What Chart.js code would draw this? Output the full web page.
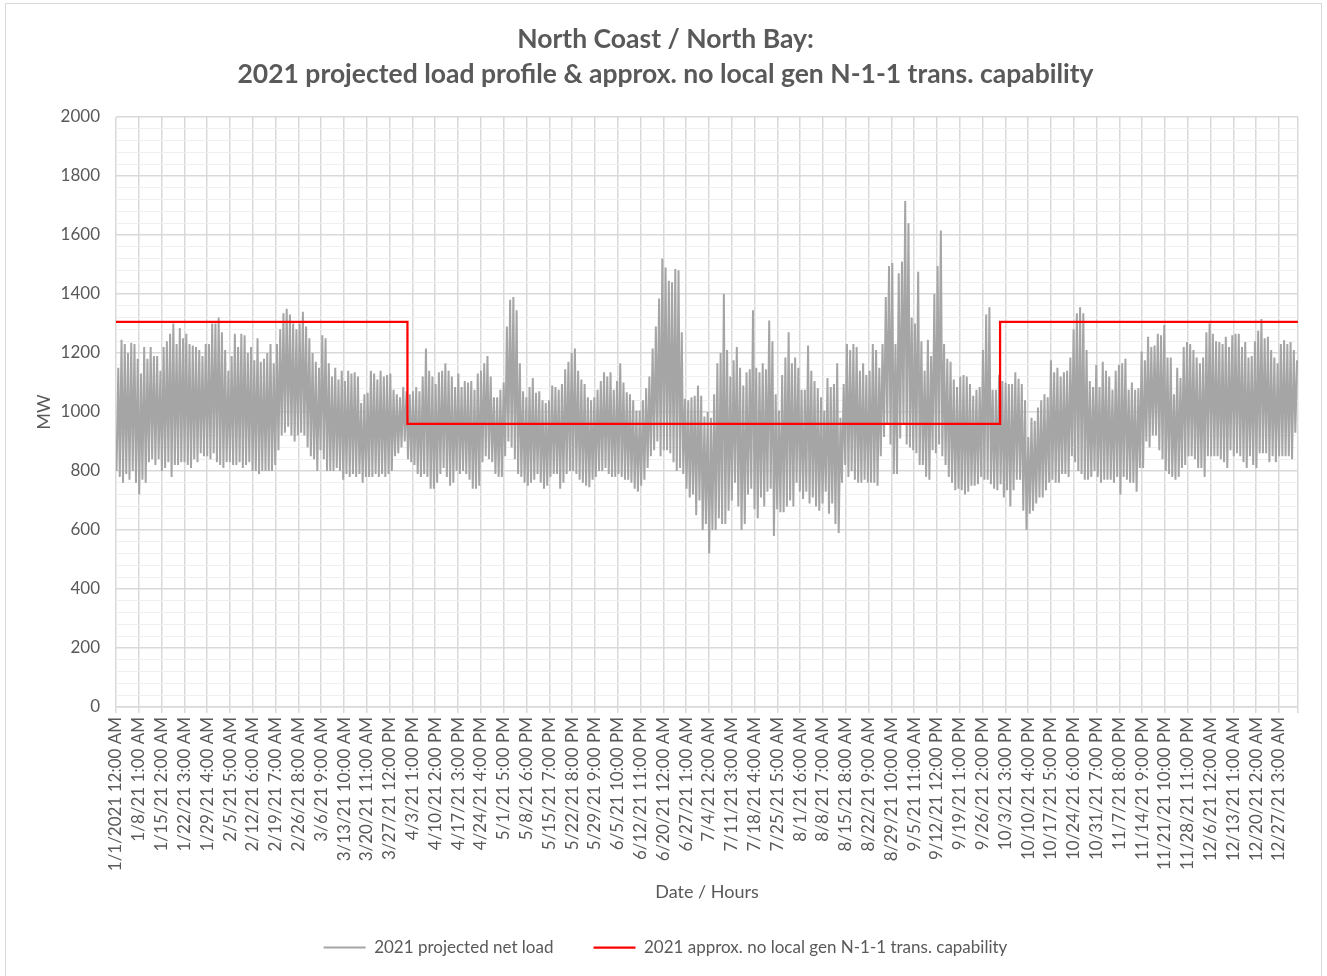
<!DOCTYPE html>
<html>
<head>
<meta charset="utf-8">
<title>North Coast / North Bay load profile</title>
<script src="https://cdn.jsdelivr.net/npm/chart.js@4.4.0/dist/chart.umd.min.js"></script>
<style>
  html, body { margin: 0; padding: 0; background: #fff; }
  #frame { position: absolute; left: 5px; top: 3px; width: 1317px; height: 990px; border: 1px solid #d9d9d9; box-sizing: border-box; }
  #wrap { position: absolute; left: 0; top: 0; width: 1327px; height: 976px; }
</style>
</head>
<body>
<div id="frame"></div>
<div id="wrap"><canvas id="loadChart" width="1327" height="976"></canvas></div>
<script>
// hours in 2021, and one label every 169 hours like the excel axis
var HOURS = 8760;
var TICK_STEP = 169;
var LOW_HOUR = 4;    // overnight minimum
var PEAK_HOUR = 17;  // afternoon peak

var tickLabels = [
  "1/1/2021 12:00 AM", "1/8/21 1:00 AM", "1/15/21 2:00 AM", "1/22/21 3:00 AM", "1/29/21 4:00 AM",
  "2/5/21 5:00 AM", "2/12/21 6:00 AM", "2/19/21 7:00 AM", "2/26/21 8:00 AM", "3/6/21 9:00 AM",
  "3/13/21 10:00 AM", "3/20/21 11:00 AM", "3/27/21 12:00 PM", "4/3/21 1:00 PM", "4/10/21 2:00 PM",
  "4/17/21 3:00 PM", "4/24/21 4:00 PM", "5/1/21 5:00 PM", "5/8/21 6:00 PM", "5/15/21 7:00 PM",
  "5/22/21 8:00 PM", "5/29/21 9:00 PM", "6/5/21 10:00 PM", "6/12/21 11:00 PM", "6/20/21 12:00 AM",
  "6/27/21 1:00 AM", "7/4/21 2:00 AM", "7/11/21 3:00 AM", "7/18/21 4:00 AM", "7/25/21 5:00 AM",
  "8/1/21 6:00 AM", "8/8/21 7:00 AM", "8/15/21 8:00 AM", "8/22/21 9:00 AM", "8/29/21 10:00 AM",
  "9/5/21 11:00 AM", "9/12/21 12:00 PM", "9/19/21 1:00 PM", "9/26/21 2:00 PM", "10/3/21 3:00 PM",
  "10/10/21 4:00 PM", "10/17/21 5:00 PM", "10/24/21 6:00 PM", "10/31/21 7:00 PM", "11/7/21 8:00 PM",
  "11/14/21 9:00 PM", "11/21/21 10:00 PM", "11/28/21 11:00 PM", "12/6/21 12:00 AM", "12/13/21 1:00 AM",
  "12/20/21 2:00 AM", "12/27/21 3:00 AM"
];

// daily peak of projected net load (MW), one row per week
var dailyHigh = [
  1150, 1245, 1230, 1200, 1235, 1230, 1180,
  1130, 1220, 1180, 1220, 1190, 1190, 1140,
  1220, 1240, 1265, 1300, 1230, 1285, 1250,
  1265, 1230, 1225, 1220, 1210, 1190, 1230,
  1230, 1300, 1300, 1320, 1270, 1210, 1140,
  1190, 1265, 1220, 1265, 1260, 1200, 1220,
  1175, 1250, 1170, 1180, 1200, 1230, 1165,
  1230, 1280, 1335, 1350, 1330, 1300, 1280,
  1300, 1340, 1290, 1250, 1200, 1170, 1150,
  1260, 1250, 1165, 1120, 1150, 1110, 1140,
  1105, 1140, 1130, 1135, 1120, 1030, 1060,
  1065, 1140, 1130, 1110, 1140, 1120, 1125,
  1130, 1075, 1060, 1050, 1085, 1070, 1060,
  1070, 1085, 1070, 1120, 1215, 1140, 1120,
  1095, 1135, 1140, 1165, 1140, 1120, 1085,
  1130, 1085, 1105, 1100, 1105, 1075, 1130,
  1140, 1165, 1190, 1120, 1050, 1050, 1075,
  1100, 1290, 1380, 1390, 1345, 1165, 1070,
  1050, 1085, 1115, 1065, 1070, 1040, 1030,
  1040, 1090, 1085, 1075, 1095, 1145, 1170,
  1200, 1215, 1140, 1110, 1095, 1050, 1040,
  1050, 1075, 1105, 1135, 1120, 1135, 1075,
  1105, 1165, 1100, 1067, 1060, 1040, 1005,
  1005, 1040, 1080, 1120, 1215, 1290, 1385,
  1520, 1490, 1445, 1440, 1485, 1480, 1270,
  1045, 1040, 1050, 1055, 1090, 1055, 985,
  1000, 980, 1060, 1165, 1200, 1400, 1210,
  1120, 1175, 1220, 1150, 1090, 1135, 1145,
  1345, 1150, 1135, 1165, 1145, 1310, 1240,
  1060, 1005, 1125, 1185, 1270, 1165, 1185,
  1150, 1075, 1075, 1225, 1140, 1105, 1080,
  1050, 1005, 1115, 1085, 1095, 1165, 980,
  1095, 1230, 1210, 1230, 1220, 1140, 1165,
  1125, 1140, 1230, 1210, 1150, 1230, 1390,
  1495, 1505, 1230, 1470, 1510, 1715, 1640,
  1320, 1300, 1475, 1240, 1140, 1245, 1190,
  1400, 1495, 1615, 1230, 1180, 1170, 1110,
  1085, 1120, 1125, 1120, 1095, 1055, 1075,
  1085, 1210, 1330, 1355, 1075, 1075, 1125,
  1105, 1100, 1095, 1095, 1135, 1113, 1095,
  1040, 915, 980, 970, 1015, 1040, 1060,
  1050, 1175, 1135, 1150, 1120, 1135, 1140,
  1185, 1280, 1335, 1355, 1335, 1210, 1105,
  1085, 1160, 1085, 1170, 1140, 1120, 1075,
  1140, 1160, 1165, 1180, 1075, 1100, 1075,
  1080, 1205, 1175, 1255, 1220, 1225, 1265,
  1260, 1295, 1185, 1185, 1060, 1150, 1115,
  1220, 1237, 1230, 1210, 1185, 1165, 1185,
  1270, 1300, 1265, 1240, 1237, 1230, 1255,
  1220, 1260, 1265, 1265, 1220, 1237, 1185,
  1190, 1240, 1275, 1315, 1250, 1255, 1210,
  1185, 1165, 1230, 1243, 1230, 1237, 1210, 1175
];

// daily overnight low (MW)
var dailyLow = [
  800, 780, 760, 790, 770, 800, 760,
  720, 770, 760, 830, 840, 820, 840,
  800, 810, 830, 780, 820, 820, 830,
  830, 820, 810, 840, 830, 860, 850,
  850, 840, 860, 830, 820, 810, 830,
  830, 820, 820, 830, 810, 820, 830,
  800, 800, 790, 800, 800, 800, 800,
  820, 870, 920, 930, 950, 920, 900,
  920, 930, 920, 880, 850, 840, 800,
  870, 840, 800, 800, 800, 810, 800,
  770, 790, 780, 790, 780, 790, 760,
  780, 780, 780, 790, 780, 790, 780,
  790, 800, 850, 860, 880, 900, 840,
  830, 820, 790, 780, 790, 780, 740,
  740, 760, 790, 810, 780, 750, 760,
  800, 790, 800, 790, 770, 740, 740,
  750, 830, 850, 840, 830, 790, 780,
  780, 850, 900, 880, 840, 790, 780,
  760, 750, 760, 770, 790, 760, 740,
  750, 780, 790, 790, 740, 760, 790,
  800, 800, 790, 770, 760, 750, 745,
  770, 780, 800, 800, 810, 790, 780,
  780, 790, 780, 770, 770, 760, 740,
  730, 750, 770, 810, 850, 870, 900,
  850, 870, 870, 860, 830, 800, 810,
  790, 740, 710, 720, 650, 700, 600,
  620, 520, 600, 600, 640, 620, 620,
  665, 700, 760, 680, 600, 620, 720,
  740, 670, 640, 710, 680, 730, 740,
  580, 670, 660, 660, 680, 700, 680,
  760, 730, 705, 730, 690, 710, 680,
  665, 690, 730, 655, 690, 620, 590,
  760, 820, 780, 800, 770, 760, 760,
  770, 760, 760, 760, 750, 850, 915,
  960, 890, 790, 790, 910, 960, 890,
  880, 870, 860, 820, 820, 780, 770,
  870, 860, 890, 850, 820, 780, 760,
  735, 740, 735, 720, 730, 750, 750,
  755, 780, 770, 770, 755, 740, 735,
  755, 710, 735, 680, 735, 770, 770,
  665, 600, 655, 665, 690, 710, 710,
  735, 760, 770, 760, 760, 790, 790,
  780, 850, 830, 800, 790, 770, 770,
  780, 800, 780, 760, 770, 770, 770,
  760, 780, 720, 780, 770, 760, 760,
  730, 810, 810, 900, 880, 920, 920,
  870, 840, 800, 790, 780, 770, 780,
  810, 820, 850, 850, 840, 810, 810,
  780, 850, 850, 850, 850, 840, 830,
  810, 870, 850, 860, 850, 830, 810,
  850, 820, 810, 860, 860, 860, 830,
  850, 830, 850, 850, 850, 850, 840, 930
];

// N-1-1 transmission capability steps (hour of year where each level starts)
var capStartHour = [0, 2160, 6552];
var capValue = [1305, 960, 1305];

var textGray = "#595959";
Chart.defaults.font.family = "Lato, 'Liberation Sans', sans-serif";
Chart.defaults.color = textGray;

var loadPoints = [];
for (var d = 0; d < dailyLow.length; d++) {
    loadPoints.push({ x: d * 24 + LOW_HOUR, y: dailyLow[d] });
    loadPoints.push({ x: d * 24 + PEAK_HOUR, y: dailyHigh[d] });
}

var capPoints = [];
for (var i = 0; i < capStartHour.length; i++) {
    capPoints.push({ x: capStartHour[i], y: capValue[i] });
}
capPoints.push({ x: HOURS - 1, y: capValue[capValue.length - 1] });

var myLineChart = new Chart(document.getElementById("loadChart"), {
    type: "line",
    data: {
        datasets: [{
            label: "2021 projected net load",
            data: loadPoints,
            borderColor: "#a5a5a5",
            backgroundColor: "#a5a5a5",
            borderWidth: 2,
            pointRadius: 0,
            tension: 0,
            order: 2
        }, {
            label: "2021 approx. no local gen N-1-1 trans. capability",
            data: capPoints,
            borderColor: "#ff0000",
            backgroundColor: "#ff0000",
            borderWidth: 2.25,
            pointRadius: 0,
            stepped: true,
            order: 1
        }]
    },
    options: {
        responsive: false,
        animation: false,
        events: [],
        layout: { padding: { top: 20, left: 33, right: 29, bottom: 10 } },
        plugins: {
            title: {
                display: true,
                text: ["North Coast / North Bay:", "2021 projected load profile & approx. no local gen N-1-1 trans. capability"],
                color: textGray,
                font: { size: 26.5, weight: "bold", lineHeight: 1.32 },
                padding: { top: 1.5, bottom: 25.5 }
            },
            legend: {
                position: "bottom",
                labels: {
                    usePointStyle: true,
                    pointStyle: "line",
                    pointStyleWidth: 42,
                    font: { size: 17 },
                    color: textGray,
                    padding: 40,
                    sort: function (a, b) { return a.datasetIndex - b.datasetIndex; }
                }
            },
            tooltip: { enabled: false }
        },
        scales: {
            x: {
                type: "linear",
                min: 0,
                max: HOURS,
                afterBuildTicks: function (scale) {
                    var t = [];
                    for (var k = 0; k < tickLabels.length; k++) t.push({ value: k * TICK_STEP });
                    t.push({ value: HOURS });
                    scale.ticks = t;
                },
                afterFit: function (scale) { scale.height = 192; },
                ticks: {
                    autoSkip: false,
                    maxRotation: 90,
                    minRotation: 90,
                    padding: 4,
                    font: { size: 17 },
                    callback: function (value) {
                        var k = Math.round(value / TICK_STEP);
                        return (k * TICK_STEP === value && tickLabels[k]) ? tickLabels[k] : "";
                    }
                },
                grid: { color: "#d9d9d9", lineWidth: 1.5, tickLength: 6 },
                border: { color: "#d9d9d9", width: 1.5 },
                title: { display: true, text: "Date / Hours", font: { size: 18 }, padding: { top: 0, bottom: -4 } }
            },
            y: {
                min: 0,
                max: 2000,
                afterFit: function (scale) { scale.width = 83; },
                ticks: {
                    stepSize: 40,
                    autoSkip: false,
                    padding: 16,
                    font: { size: 17 },
                    callback: function (value) { return value % 200 === 0 ? value : ""; }
                },
                grid: {
                    drawTicks: false,
                    color: function (ctx) { return ctx.tick.value % 200 === 0 ? "#d9d9d9" : "#efefef"; },
                    lineWidth: function (ctx) { return ctx.tick.value % 200 === 0 ? 1.5 : 1; }
                },
                border: { display: false },
                title: { display: true, text: "MW", font: { size: 18 }, padding: 0 }
            }
        }
    }
});
</script>
</body>
</html>
